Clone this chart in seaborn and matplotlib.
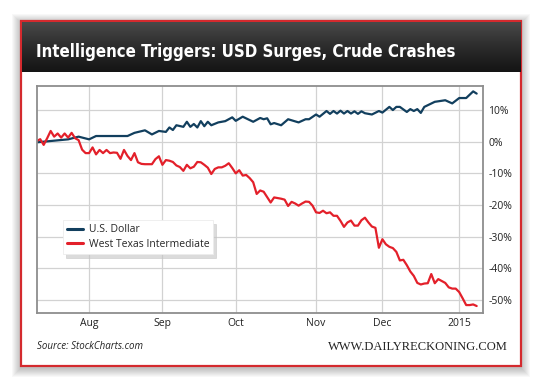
import numpy as np
import pandas as pd
import matplotlib
matplotlib.use("Agg")
import matplotlib.pyplot as plt
import seaborn as sns
from matplotlib.patches import Rectangle
from matplotlib.colors import LinearSegmentedColormap

# ---------------- data ----------------
title = "Intelligence Triggers: USD Surges, Crude Crashes"
source_text = "Source: StockCharts.com"
site_text = "WWW.DAILYRECKONING.COM"
series_names = ["U.S. Dollar", "West Texas Intermediate"]

# x axis = trading-session index (0 = mid-July 2014)
month_labels = ["Aug", "Sep", "Oct", "Nov", "Dec", "2015"]
month_days = [15, 36, 57, 80, 99, 121]
ytick_vals = [10, 0, -10, -20, -30, -40, -50]

usd_day = [0, 9, 12, 15, 17, 26, 28, 31, 33, 35, 37, 38, 39, 40, 42, 43, 44, 45,
           46, 47, 48, 49, 50, 52, 54, 56, 57, 59, 62, 64, 65, 66, 67, 68, 70, 72,
           75, 77, 78, 80, 81, 83, 84, 85, 86, 87, 88, 89, 90, 91, 92, 93, 94, 96,
           98, 99, 101, 102, 103, 104, 106, 107, 108, 109, 110, 111, 114, 117, 119,
           121, 123, 125, 126]
usd_pct = [-0.2, 0.75, 1.6, 0.75, 1.8, 1.8, 2.8, 3.6, 2.3, 3.4, 3.1, 4.5, 3.7, 5.2,
           4.7, 6.3, 4.7, 5.6, 4.5, 6.5, 4.9, 6.3, 5.2, 6.1, 6.5, 7.7, 6.6, 7.9, 6.3,
           7.5, 7.1, 7.4, 5.5, 5.9, 5.2, 7.1, 6.1, 7.1, 7.1, 8.6, 7.9, 9.7, 8.8, 9.7,
           8.9, 9.8, 8.9, 9.7, 8.9, 9.6, 8.8, 9.6, 9.0, 8.6, 9.7, 9.2, 11.0, 10.0,
           11.0, 11.0, 9.4, 10.3, 9.7, 10.3, 9.1, 11.0, 12.6, 13.1, 12.1, 13.8, 13.8,
           15.9, 15.2]

wti_day = list(range(127))
wti_pct = [0.2, 0.8, -1.0, 1.1, 3.4, 1.6, 2.6, 1.3, 2.6, 1.3,
           2.8, 1.1, 0.5, -2.5, -3.6, -3.6, -1.8, -4.0, -2.6, -3.6,
           -2.6, -3.6, -3.4, -3.5, -5.4, -2.6, -4.5, -5.8, -3.6, -6.5,
           -7.0, -7.1, -7.1, -7.1, -5.5, -4.6, -7.3, -5.8, -6.0, -6.4,
           -7.5, -8.0, -9.2, -7.3, -8.4, -7.9, -6.4, -6.5, -7.3, -8.2,
           -10.2, -8.6, -8.1, -8.1, -7.6, -6.8, -8.3, -10.0, -9.0, -10.7,
           -10.5, -11.5, -12.8, -16.5, -15.4, -15.8, -17.5, -19.2, -17.6, -17.8,
           -18.0, -18.3, -20.3, -19.0, -19.5, -20.2, -19.5, -18.9, -19.0, -20.2,
           -22.3, -22.5, -21.8, -22.6, -22.3, -23.4, -23.4, -25.0, -26.9, -25.5,
           -24.9, -26.5, -26.5, -24.8, -24.0, -25.5, -26.8, -27.2, -33.5, -30.8,
           -32.4, -33.2, -33.6, -34.8, -37.5, -37.3, -39.0, -41.0, -42.4, -44.6,
           -45.1, -44.8, -44.7, -41.8, -44.7, -43.4, -44.0, -44.6, -46.0, -46.4,
           -46.4, -47.5, -49.5, -51.6, -51.6, -51.4, -51.9]

usd_df = pd.DataFrame({"day": usd_day, "pct": usd_pct})
wti_df = pd.DataFrame({"day": wti_day, "pct": wti_pct})

# ---------------- layout helpers ----------------
W, H = 540, 385
sns.set_style("white")
plt.rcParams["font.family"] = ["Open Sans", "DejaVu Sans"]

fig = plt.figure(figsize=(W / 100, H / 100), dpi=100)
fig.patch.set_facecolor("white")

def fx(x):
    return x / W

def fy(y):
    return 1 - y / H

# card shadow
cl, cr, ct, cb = 20.7, 521.0, 21.0, 365.5
for pad in range(9, 0, -1):
    fig.patches.append(Rectangle((fx(cl - pad), fy(cb + pad + 2)),
                                 (cr - cl + 2 * pad) / W, (cb - ct + 2 * pad) / H,
                                 transform=fig.transFigure, facecolor="black",
                                 edgecolor="none", alpha=0.028, zorder=-5))
# card
fig.patches.append(Rectangle((fx(cl), fy(cb)), (cr - cl) / W, (cb - ct) / H,
                             transform=fig.transFigure, facecolor="white",
                             edgecolor="#d42a2e", linewidth=1.6, zorder=-4))

# title bar gradient
bar = fig.add_axes([fx(21.6), fy(72), (520.1 - 21.6) / W, (72 - 21.8) / H])
grad = np.linspace(0, 1, 100).reshape(-1, 1)
cmap = LinearSegmentedColormap.from_list("bar", ["#4a4a4a", "#2c2c2c", "#141414"])
bar.imshow(grad, aspect="auto", cmap=cmap, extent=[0, 1, 0, 1], origin="upper")
bar.set_axis_off()
ttl = bar.text(0.0285, 0.30, title, transform=bar.transAxes, color="white",
               fontsize=16, fontweight="bold", ha="left", va="baseline",
               family=["DejaVu Sans"], fontstretch="condensed")
# fit title to the reference width (~419 px)
fig.canvas.draw()
w_now = ttl.get_window_extent().width
if w_now > 0:
    ttl.set_fontsize(16 * 419.0 / w_now)

# ---------------- main chart ----------------
ax = fig.add_axes([fx(36.7), fy(313.3), (483.3 - 36.7) / W, (313.3 - 86) / H])
ax.set_facecolor("white")

usd_color = "#123f5e"
wti_color = "#e3202a"
sns.lineplot(data=usd_df, x="day", y="pct", ax=ax, color=usd_color,
             linewidth=1.6, label=series_names[0])
sns.lineplot(data=wti_df, x="day", y="pct", ax=ax, color=wti_color,
             linewidth=1.6, label=series_names[1])

ax.set_xlim(0, 127.9)
ax.set_ylim(-54.2, 17.6)
ax.set_xticks(month_days)
ax.set_xticklabels(month_labels)
ax.set_yticks(ytick_vals)
ax.set_yticklabels([f"{v}%" for v in ytick_vals])
ax.yaxis.tick_right()
ax.tick_params(axis="both", length=0, labelsize=7.5, colors="#222222")
ax.tick_params(axis="y", pad=3.5)
ax.tick_params(axis="x", pad=3.5)
ax.set_xlabel("")
ax.set_ylabel("")
ax.grid(True, color="#d2d2d2", linewidth=0.9)
ax.set_axisbelow(True)
for s in ax.spines.values():
    s.set_color("#8e8e8e")
    s.set_linewidth(1.3)

leg = ax.legend(loc="upper left", bbox_to_anchor=((63 - 36.7) / 446.6, (313.3 - 220) / 227.3),
                borderaxespad=0.0,
                frameon=True, fontsize=7.5, handlelength=1.5, handletextpad=0.55,
                borderpad=0.4, labelspacing=0.35, fancybox=False,
                shadow={"color": "#c4c4c4", "alpha": 0.6, "ox": 2, "oy": -3})
leg.get_frame().set_edgecolor("#ececec")
leg.get_frame().set_linewidth(0.6)
for line in leg.get_lines():
    line.set_linewidth(2.2)

# footer
fig.text(fx(37), fy(346.5), source_text, fontsize=7, style="italic",
         color="#222222", ha="left", va="center")
fig.text(fx(507.6), fy(347), site_text, fontsize=9, color="#222222",
         ha="right", va="center", family=["Liberation Serif", "DejaVu Serif"])

fig.savefig("out.png", dpi=100, facecolor="white")
